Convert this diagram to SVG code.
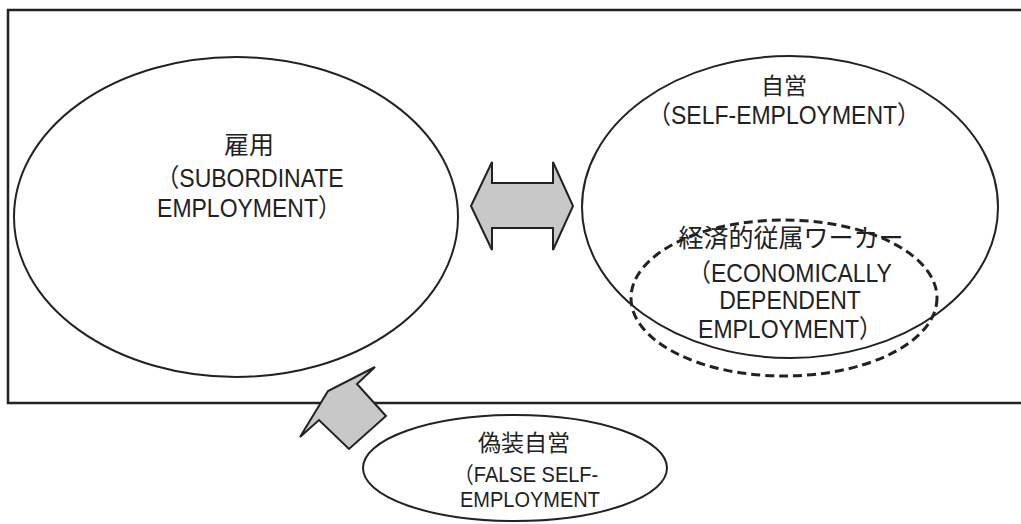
<svg xmlns="http://www.w3.org/2000/svg" width="1021" height="524" viewBox="0 0 1021 524">
<style>
.t{font-family:"Liberation Sans","Noto Sans CJK JP",sans-serif;font-size:23px;fill:#222;text-anchor:middle}
.c{font-family:"Noto Sans CJK JP","Liberation Sans",sans-serif;font-size:25px;fill:#222;text-anchor:middle}
.s{font-size:20px}
.cs{font-size:23px}
.e{fill:none;stroke:#222;stroke-width:2}
.d{fill:none;stroke:#222;stroke-width:3;stroke-dasharray:9 5}
.a{fill:#c8c8c8;stroke:#222;stroke-width:2;stroke-linejoin:miter}
</style>
<rect x="8" y="10" width="1030" height="393" fill="none" stroke="#222" stroke-width="2.5"/>
<g id="employment">
<ellipse class="e" cx="236" cy="217" rx="222" ry="160"/>
<text class="c" x="249" y="154">雇用</text>
<text class="t" transform="translate(250,187) scale(1,1.1)">（SUBORDINATE</text>
<text class="t" transform="translate(249,217) scale(1,1.1)">EMPLOYMENT）</text>
</g>
<g id="self-employment">
<ellipse class="e" cx="790" cy="207" rx="208" ry="151"/>
<text class="c cs" x="784" y="94">自営</text>
<text class="t" transform="translate(784,124) scale(1,1.1)">（SELF-EMPLOYMENT）</text>
</g>
<g id="dependent">
<ellipse class="d" cx="784" cy="298" rx="153" ry="78"/>
<text class="c" x="791" y="247">経済的従属ワーカー</text>
<text class="t" transform="translate(790,282) scale(1,1.1)">（ECONOMICALLY</text>
<text class="t" transform="translate(790,309) scale(1,1.1)">DEPENDENT</text>
<text class="t" transform="translate(790,338) scale(1,1.1)">EMPLOYMENT）</text>
</g>
<g id="false-self">
<ellipse class="e" cx="515" cy="468" rx="152" ry="53"/>
<text class="c cs" x="524" y="451">偽装自営</text>
<text class="t s" transform="translate(526,482) scale(1,1.1)">（FALSE SELF-</text>
<text class="t s" transform="translate(530,507) scale(1,1.1)">EMPLOYMENT</text>
</g>
<g id="connectors">
<polygon class="a" points="471,206 492,162 492,183 553,183 553,162 573,206 553,250 553,228 492,228 492,250"/>
<polygon class="a" points="300,437 328,391 375,367 357,384 386,416 349,449 319,420"/>
</g>
</svg>
